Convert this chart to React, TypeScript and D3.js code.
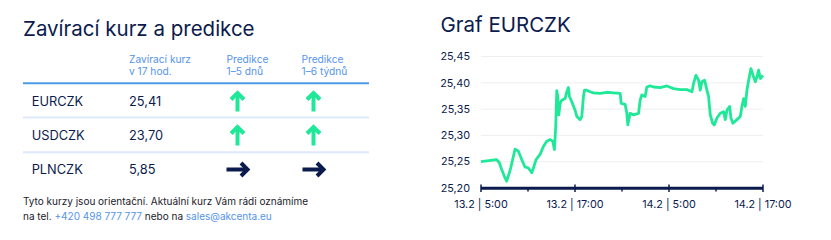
import React from "react";
import * as d3 from "d3";

// ---- data ----
const pairs = ["EURCZK", "USDCZK", "PLNCZK"];
const closing = ["25,41", "23,70", "5,85"];
const pred5d = ["up", "up", "right"];
const pred6w = ["up", "up", "right"];

// hours since 13.2 5:00
const hours = [0, 2.0, 2.34, 2.64, 3.07, 3.28, 3.62, 3.79, 4.13, 4.35, 4.77, 5.2, 5.62, 6.05, 6.48, 6.69, 7.03, 7.54, 7.97, 8.39, 8.82, 9.16, 9.37, 9.54, 9.67, 9.8, 9.93, 10.1, 10.31, 10.74, 10.95, 11.16, 11.29, 11.59, 12.01, 12.23, 12.65, 12.87, 13.08, 13.21, 13.5, 13.93, 14.36, 15.21, 16.06, 16.91, 17.77, 17.89, 18.4, 18.62, 18.74, 19.04, 19.47, 20.11, 20.32, 20.53, 20.96, 21.17, 21.6, 22.03, 22.88, 23.73, 24.58, 25.43, 26.29, 26.93, 27.14, 27.44, 27.78, 27.99, 28.2, 28.54, 28.84, 29.05, 29.27, 29.57, 29.78, 30.12, 30.55, 30.97, 31.18, 31.4, 31.74, 31.91, 32.16, 32.67, 33.1, 33.31, 33.53, 33.74, 33.95, 34.17, 34.46, 34.8, 35.02, 35.23, 35.44, 35.66, 36.0];
const rates = [25.25, 25.254, 25.248, 25.235, 25.219, 25.213, 25.229, 25.238, 25.26, 25.274, 25.27, 25.254, 25.24, 25.238, 25.229, 25.238, 25.254, 25.264, 25.279, 25.289, 25.292, 25.289, 25.273, 25.317, 25.385, 25.374, 25.339, 25.361, 25.367, 25.37, 25.383, 25.391, 25.374, 25.364, 25.348, 25.336, 25.33, 25.336, 25.374, 25.386, 25.386, 25.383, 25.381, 25.38, 25.382, 25.381, 25.38, 25.361, 25.359, 25.342, 25.32, 25.342, 25.339, 25.342, 25.367, 25.377, 25.374, 25.392, 25.394, 25.392, 25.391, 25.394, 25.389, 25.387, 25.387, 25.383, 25.399, 25.414, 25.405, 25.386, 25.402, 25.405, 25.386, 25.374, 25.339, 25.323, 25.32, 25.333, 25.342, 25.345, 25.33, 25.348, 25.355, 25.333, 25.323, 25.33, 25.336, 25.355, 25.37, 25.355, 25.386, 25.405, 25.427, 25.411, 25.402, 25.411, 25.424, 25.408, 25.414];

const yTicks = [25.2, 25.25, 25.3, 25.35, 25.4, 25.45];
const xMajor = [0, 12, 24, 36];
const xMinor = [6, 18, 30];
const xLabels = ["13.2 | 5:00", "13.2 | 17:00", "14.2 | 5:00", "14.2 | 17:00"];

const NAVY = "#0b1b4d";
const GREEN = "#1fe898";
const BLUE = "#5594ec";
const FONT = "Inter, 'Noto Sans', sans-serif";

function Arrow({ dir, cx, cy, color }: { dir: string; cx: number; cy: number; color: string }) {
  if (dir === "up") {
    return (
      <g stroke={color} strokeWidth={4} fill="none" strokeLinejoin="miter">
        <line x1={cx} y1={cy + 9.5} x2={cx} y2={cy - 8} />
        <polyline points={`${cx - 6.5},${cy - 2.5} ${cx},${cy - 9} ${cx + 6.5},${cy - 2.5}`} />
      </g>
    );
  }
  return (
    <g stroke={color} strokeWidth={4} fill="none" strokeLinejoin="miter">
      <line x1={cx - 11} y1={cy} x2={cx + 9} y2={cy} />
      <polyline points={`${cx + 3.5},${cy - 6.5} ${cx + 10},${cy} ${cx + 3.5},${cy + 6.5}`} />
    </g>
  );
}

export default function App() {
  const x = d3.scaleLinear().domain([0, 36]).range([481, 763]);
  const y = d3.scaleLinear().domain([25.2, 25.45]).range([188, 56.5]);
  const line = d3
    .line<number>()
    .x((_, i) => x(hours[i]))
    .y((d) => y(d))
    .curve(d3.curveLinear);
  const fmt = (v: number) => v.toFixed(2).replace(".", ",");

  const rowBase = [106, 140.3, 174];
  const rowMid = [102, 136, 169.5];

  return (
    <svg
      width={831}
      height={240}
      style={{ position: "absolute", left: 0, top: 0, fontFamily: FONT }}
    >
      <rect width={831} height={240} fill="#fff" />
      {/* left panel */}
      <text x={23} y={35.5} fontSize={20.5} fill={NAVY}>
        Zavírací kurz a predikce
      </text>
      <g fontSize={10.2} fill={BLUE}>
        <text x={129} y={63.3}>Zavírací kurz</text>
        <text x={129} y={75}>v 17 hod.</text>
        <text x={226.5} y={63.3}>Predikce</text>
        <text x={226.5} y={75}>1–5 dnů</text>
        <text x={301.5} y={63.3}>Predikce</text>
        <text x={301.5} y={75}>1–6 týdnů</text>
      </g>
      <line x1={23} x2={369} y1={83.3} y2={83.3} stroke="#4c9be8" strokeWidth={2} />
      <line x1={23} x2={369} y1={117.5} y2={117.5} stroke="#dde9f8" strokeWidth={2} />
      <line x1={23} x2={369} y1={152.3} y2={152.3} stroke="#dde9f8" strokeWidth={2} />
      {pairs.map((p, i) => (
        <g key={p}>
          <text x={31.7} y={rowBase[i]} fontSize={12.8} fill={NAVY}>
            {p}
          </text>
          <text x={129} y={rowBase[i]} fontSize={12.8} fill={NAVY}>
            {closing[i]}
          </text>
          <Arrow dir={pred5d[i]} cx={237.5} cy={rowMid[i]} color={pred5d[i] === "up" ? GREEN : NAVY} />
          <Arrow dir={pred6w[i]} cx={313.5} cy={rowMid[i]} color={pred6w[i] === "up" ? GREEN : NAVY} />
        </g>
      ))}
      <g fontSize={10} fill="#1a1a2a">
        <text x={23} y={205}>Tyto kurzy jsou orientační. Aktuální kurz Vám rádi oznámíme</text>
        <text x={23} y={220}>
          na tel. <tspan fill={BLUE}>+420 498 777 777</tspan> nebo na{" "}
          <tspan fill={BLUE}>sales@akcenta.eu</tspan>
        </text>
      </g>

      {/* right panel */}
      <text x={440.5} y={31.7} fontSize={20.5} fill={NAVY}>
        Graf EURCZK
      </text>
      {yTicks.map((t) => (
        <g key={t}>
          {t > 25.2 && (
            <line x1={481} x2={763} y1={y(t)} y2={y(t)} stroke="#efefef" strokeWidth={1} />
          )}
          <text x={470} y={y(t)} dy="0.35em" textAnchor="end" fontSize={10.8} fill={NAVY}>
            {fmt(t)}
          </text>
        </g>
      ))}
      <path d={line(rates) || ""} fill="none" stroke={GREEN} strokeWidth={2.8} strokeLinejoin="round" />
      <line x1={481} x2={763} y1={188.3} y2={188.3} stroke={NAVY} strokeWidth={3} />
      {xMajor.map((t, i) => (
        <g key={t}>
          <line x1={x(t)} x2={x(t)} y1={184.5} y2={192} stroke={NAVY} strokeWidth={1.5} />
          <text x={x(t)} y={207.5} textAnchor="middle" fontSize={10.8} fill={NAVY}>
            {xLabels[i]}
          </text>
        </g>
      ))}
      {xMinor.map((t) => (
        <line key={t} x1={x(t)} x2={x(t)} y1={188} y2={191.5} stroke={NAVY} strokeWidth={1.5} />
      ))}
    </svg>
  );
}
